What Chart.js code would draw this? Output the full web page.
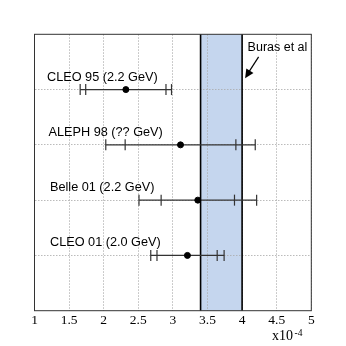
<!DOCTYPE html>
<html><head><meta charset="utf-8">
<script src="https://cdn.jsdelivr.net/npm/chart.js@4"></script>
<style>html,body{margin:0;padding:0;background:#fff}#wrap{width:346px;height:346px}</style>
</head><body><div id="wrap"><canvas id="c" width="346" height="346"></canvas></div>
<script>
const labels = ["CLEO 95 (2.2 GeV)", "ALEPH 98 (?? GeV)", "Belle 01 (2.2 GeV)", "CLEO 01 (2.0 GeV)"];
const rows = [4, 3, 2, 1];
const centers = [2.32, 3.11, 3.36, 3.21];
const innerLow = [1.74, 2.31, 2.83, 2.77];
const innerHigh = [2.90, 3.91, 3.89, 3.64];
const outerLow = [1.66, 2.03, 2.51, 2.68];
const outerHigh = [2.98, 4.19, 4.21, 3.74];
const bandRange = [3.4, 4.0];
const bandLabel = "Buras et al";
const xTicks = [1, 1.5, 2, 2.5, 3, 3.5, 4, 4.5, 5];

const sans = "'Liberation Sans', Arial, sans-serif";
const serif = "'Liberation Serif', 'Times New Roman', serif";

const plugin = {
  id: 'custom',
  beforeDraw(chart) {
    const {ctx, chartArea: a, scales: {x}} = chart;
    const x0 = x.getPixelForValue(bandRange[0]), x1 = x.getPixelForValue(bandRange[1]);
    ctx.save();
    ctx.fillStyle = '#c5d6ee';
    ctx.fillRect(x0, a.top, x1 - x0, a.bottom - a.top);
    ctx.restore();
  },
  beforeDatasetsDraw(chart) {
    const {ctx, chartArea: a, scales: {x, y}} = chart;
    ctx.save();
    ctx.strokeStyle = '#000';
    ctx.lineWidth = 1.6;
    bandRange.forEach(v => {
      const px = x.getPixelForValue(v);
      ctx.beginPath(); ctx.moveTo(px, a.top); ctx.lineTo(px, a.bottom); ctx.stroke();
    });
    ctx.strokeStyle = '#333';
    ctx.lineWidth = 1.2;
    rows.forEach((r, i) => {
      const py = y.getPixelForValue(r);
      ctx.beginPath();
      ctx.moveTo(x.getPixelForValue(outerLow[i]), py);
      ctx.lineTo(x.getPixelForValue(outerHigh[i]), py);
      ctx.stroke();
      [innerLow[i], innerHigh[i], outerLow[i], outerHigh[i]].forEach(v => {
        const px = x.getPixelForValue(v);
        ctx.beginPath(); ctx.moveTo(px, py - 5.5); ctx.lineTo(px, py + 5.5); ctx.stroke();
      });
    });
    ctx.fillStyle = '#000';
    ctx.font = '12.7px ' + sans;
    ctx.textBaseline = 'middle';
    ctx.textAlign = 'left';
    const offs = [12.5, 14, 15.5, 15.5];
    rows.forEach((r, i) => {
      const py = y.getPixelForValue(r);
      ctx.fillText(labels[i], a.left + offs[i], py - 12.5);
    });
    ctx.restore();
  },
  afterDraw(chart) {
    const {ctx, chartArea: a, scales: {x}} = chart;
    ctx.save();
    ctx.strokeStyle = '#333';
    ctx.lineWidth = 1;
    ctx.strokeRect(a.left, a.top, a.right - a.left, a.bottom - a.top);
    ctx.fillStyle = '#000';
    ctx.font = '12.5px ' + sans;
    ctx.textBaseline = 'middle';
    ctx.textAlign = 'left';
    const bx = x.getPixelForValue(bandRange[1]);
    ctx.fillText(bandLabel, bx + 5.5, a.top + 13.5);
    const sx = bx + 16.5, sy = a.top + 22.5, tx = bx + 3, ty = a.top + 44;
    ctx.strokeStyle = '#000'; ctx.lineWidth = 1.2;
    ctx.beginPath(); ctx.moveTo(sx, sy); ctx.lineTo(tx + 3.5, ty - 6); ctx.stroke();
    const ang = Math.atan2(ty - sy, tx - sx);
    const L = 9, W = 4.2;
    ctx.beginPath();
    ctx.moveTo(tx, ty);
    ctx.lineTo(tx - L * Math.cos(ang) + W * Math.sin(ang), ty - L * Math.sin(ang) - W * Math.cos(ang));
    ctx.lineTo(tx - L * Math.cos(ang) - W * Math.sin(ang), ty - L * Math.sin(ang) + W * Math.cos(ang));
    ctx.closePath(); ctx.fill();
    ctx.font = '14px ' + serif;
    ctx.textBaseline = 'alphabetic';
    ctx.fillText('x10', 272, 340);
    ctx.font = '9.5px ' + serif;
    ctx.fillText('-4', 294.5, 335.5);
    ctx.restore();
  }
};

new Chart(document.getElementById('c'), {
  type: 'scatter',
  data: {
    datasets: [{
      data: centers.map((v, i) => ({x: v, y: rows[i]})),
      backgroundColor: '#000', borderColor: '#000',
      pointRadius: 3, pointHoverRadius: 3
    }]
  },
  options: {
    responsive: false, animation: false,
    layout: {padding: {left: 34.5, right: 34.7, top: 34.3, bottom: 0}},
    plugins: {legend: {display: false}, tooltip: {enabled: false}},
    scales: {
      x: {
        type: 'linear', min: 1, max: 5,
        afterBuildTicks(ax) { ax.ticks = xTicks.map(v => ({value: v})); },
        afterFit(ax) { ax.height = 35.3; },
        border: {display: false, dash: [1.5, 1.5]},
        grid: {color: '#aaa', lineWidth: 0.8, drawTicks: false},
        ticks: {padding: 2, color: '#000', font: {family: serif, size: 13.5}, callback: v => String(v), maxRotation: 0, autoSkip: false}
      },
      y: {
        type: 'linear', min: 0, max: 5,
        afterBuildTicks(ax) { ax.ticks = [1, 2, 3, 4].map(v => ({value: v})); },
        afterFit(ax) { ax.width = 0; },
        border: {display: false, dash: [1.5, 1.5]},
        grid: {color: '#aaa', lineWidth: 0.8, drawTicks: false},
        ticks: {display: false}
      }
    }
  },
  plugins: [plugin]
});
</script>
</body></html>
